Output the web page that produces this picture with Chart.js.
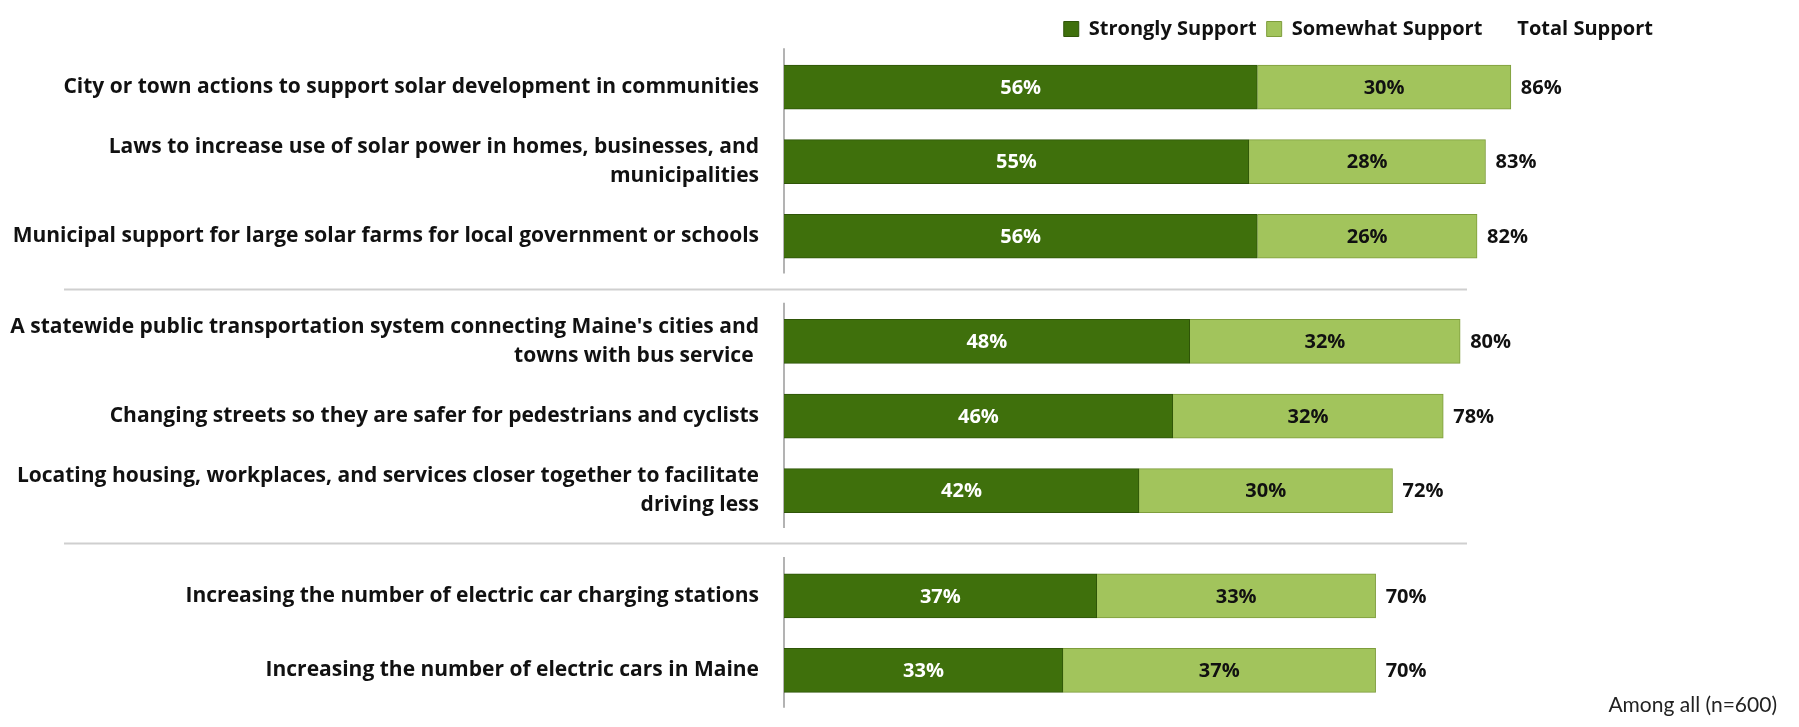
<!DOCTYPE html>
<html>
<head>
<meta charset="utf-8">
<title>Support for community climate actions</title>
<script src="https://cdn.jsdelivr.net/npm/chart.js@4.4.1/dist/chart.umd.min.js"></script>
<style>
  html, body { margin: 0; padding: 0; background: #fff; }
  #wrap { position: relative; width: 1799px; height: 727px; }
</style>
</head>
<body>
<div id="wrap"><canvas id="supportChart"></canvas></div>
<script>
// survey items, top to bottom (arrays = wrapped labels)
var items = [
  "City or town actions to support solar development in communities",
  ["Laws to increase use of solar power in homes, businesses, and", "municipalities"],
  "Municipal support for large solar farms for local government or schools",
  ["A statewide public transportation system connecting Maine's cities and", "towns with bus service "],
  "Changing streets so they are safer for pedestrians and cyclists",
  ["Locating housing, workplaces, and services closer together to facilitate", "driving less"],
  "Increasing the number of electric car charging stations",
  "Increasing the number of electric cars in Maine"
];
// which block each item belongs to (solar / transport / electric cars)
var groups = [0, 0, 0, 1, 1, 1, 2, 2];

var stronglySupport = [56, 55, 56, 48, 46, 42, 37, 33];
var somewhatSupport = [30, 28, 26, 32, 32, 30, 33, 37];

var seriesNames = ["Strongly Support", "Somewhat Support", "Total Support"];
var note = "Among all (n=600)";

// extra space between blocks, in rows
var GROUP_GAP = 0.41;
var rowPos = items.map(function (label, i) {
  return i + groups[i] * GROUP_GAP;
});

var FONT = "'Open Sans', Lato, sans-serif";

function toPoints(values) {
  return values.map(function (v, i) {
    return { x: v, y: rowPos[i] };
  });
}

// bar value labels, totals, block separators and the note
var decorations = {
  id: "decorations",
  beforeDatasetsDraw: function (chart) {
    var ctx = chart.ctx;
    var y = chart.scales.y;
    var left = chart.chartArea.left;
    ctx.save();

    // separators between blocks
    ctx.strokeStyle = "#cfcfcf";
    ctx.lineWidth = 2;
    for (var i = 1; i < items.length; i++) {
      if (groups[i] !== groups[i - 1]) {
        var sy = Math.round(y.getPixelForValue((rowPos[i] + rowPos[i - 1]) / 2)) + 0.5;
        ctx.beginPath();
        ctx.moveTo(64, sy);
        ctx.lineTo(1467, sy);
        ctx.stroke();
      }
    }

    // axis line, broken per block
    ctx.strokeStyle = "#9a9a9a";
    ctx.lineWidth = 1.5;
    var start = 0;
    for (var j = 1; j <= items.length; j++) {
      if (j === items.length || groups[j] !== groups[start]) {
        ctx.beginPath();
        ctx.moveTo(left, y.getPixelForValue(rowPos[start] - 0.52));
        ctx.lineTo(left, y.getPixelForValue(rowPos[j - 1] + 0.5));
        ctx.stroke();
        start = j;
      }
    }
    ctx.restore();
  },
  afterDatasetsDraw: function (chart) {
    var ctx = chart.ctx;
    ctx.save();
    ctx.font = "bold 20px " + FONT;
    ctx.textBaseline = "middle";
    ctx.textAlign = "center";

    chart.data.datasets.forEach(function (ds, di) {
      var meta = chart.getDatasetMeta(di);
      meta.data.forEach(function (bar, i) {
        var p = bar.getProps(["x", "y", "base"], true);
        ctx.fillStyle = di === 0 ? "#ffffff" : "#111111";
        ctx.fillText(ds.data[i].x + "%", (p.x + p.base) / 2, p.y + 1);
      });
    });

    // total support at the end of each stack
    var top = chart.getDatasetMeta(1);
    ctx.textAlign = "left";
    ctx.fillStyle = "#111111";
    ctx.font = "bold 20px " + FONT;
    top.data.forEach(function (bar, i) {
      var p = bar.getProps(["x", "y"], true);
      ctx.fillText((stronglySupport[i] + somewhatSupport[i]) + "%", p.x + 10, p.y + 1);
    });

    ctx.font = "21px Lato, sans-serif";
    ctx.textAlign = "right";
    ctx.fillStyle = "#222222";
    ctx.fillText(note, chart.width - 22, chart.height - 22);
    ctx.restore();
  }
};

new Chart(document.getElementById("supportChart"), {
  type: "bar",
  data: {
    datasets: [
      {
        label: seriesNames[0],
        data: toPoints(stronglySupport),
        backgroundColor: "#3f700c",
        borderColor: "#2f5508",
        borderWidth: 1,
        barThickness: 44
      },
      {
        label: seriesNames[1],
        data: toPoints(somewhatSupport),
        backgroundColor: "#a2c45c",
        borderColor: "#7e9d3c",
        borderWidth: 1,
        barThickness: 44
      }
    ]
  },
  options: {
    indexAxis: "y",
    responsive: true,
    maintainAspectRatio: false,
    animation: false,
    layout: { padding: { top: 9, right: 136, bottom: 20, left: 0 } },
    scales: {
      x: {
        type: "linear",
        stacked: true,
        min: 0,
        max: 104,
        display: false
      },
      y: {
        type: "linear",
        stacked: true,
        reverse: true,
        offset: false,
        min: -0.51,
        max: 8.31,
        grid: { display: false },
        border: { display: false },
        afterBuildTicks: function (scale) {
          scale.ticks = rowPos.map(function (v) { return { value: v }; });
        },
        afterFit: function (scale) {
          scale.width = 784;
          scale.paddingTop = 0;
          scale.paddingBottom = 0;
        },
        ticks: {
          autoSkip: false,
          padding: 17,
          color: "#111111",
          font: { family: FONT, size: 21, weight: "bold", lineHeight: 1.37 },
          callback: function (value) {
            var i = rowPos.indexOf(value);
            return i >= 0 ? items[i] : "";
          }
        }
      }
    },
    plugins: {
      legend: {
        position: "top",
        align: "end",
        labels: {
          color: "#111111",
          boxWidth: 15,
          boxHeight: 15,
          padding: 10,
          font: { family: FONT, size: 20, weight: "bold" },
          generateLabels: function (chart) {
            var list = Chart.defaults.plugins.legend.labels.generateLabels(chart);
            list.push({
              text: seriesNames[2],
              fillStyle: "rgba(0,0,0,0)",
              strokeStyle: "rgba(0,0,0,0)",
              lineWidth: 0,
              hidden: false,
              datasetIndex: -1
            });
            return list;
          }
        }
      },
      tooltip: { enabled: false }
    }
  },
  plugins: [decorations]
});
</script>
</body>
</html>
